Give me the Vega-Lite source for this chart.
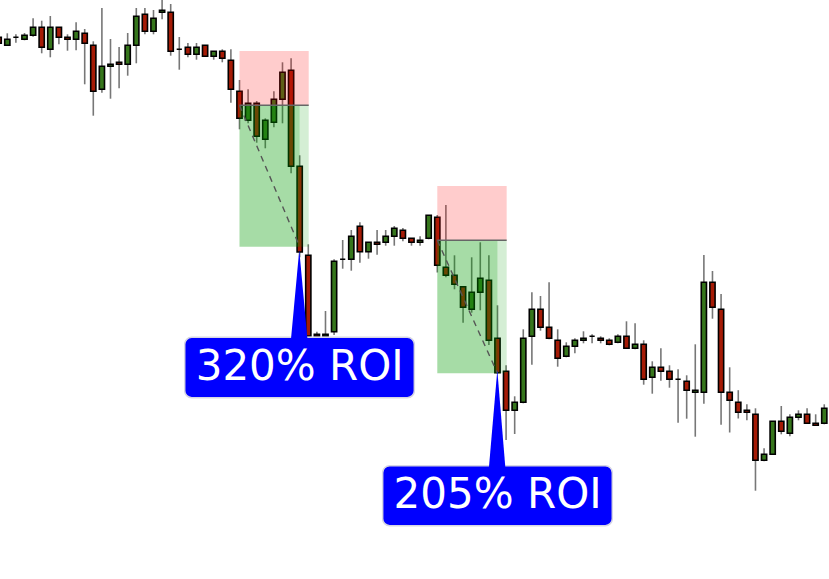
{
  "$schema": "https://vega.github.io/schema/vega-lite/v6.json",
  "width": 829,
  "height": 579,
  "autosize": "none",
  "padding": 0,
  "background": "white",
  "config": {"view": {"stroke": null}},
  "datasets": {
    "candles": [
      {"i": 0, "o": 562.7, "h": 565, "l": 555, "c": 556.7},
      {"i": 1, "o": 554.7, "h": 566.7, "l": 554.7, "c": 560.7},
      {"i": 2, "o": 562.7, "h": 565.7, "l": 557.3, "c": 562.7},
      {"i": 3, "o": 560.7, "h": 567, "l": 559.7, "c": 564.7},
      {"i": 4, "o": 564.7, "h": 581.7, "l": 563.3, "c": 572.7},
      {"i": 5, "o": 572.7, "h": 579.3, "l": 546.7, "c": 552.7},
      {"i": 6, "o": 550.7, "h": 584, "l": 542.7, "c": 572.7},
      {"i": 7, "o": 572.7, "h": 572.7, "l": 555.7, "c": 562.7},
      {"i": 8, "o": 562.7, "h": 565.7, "l": 549.3, "c": 560.7},
      {"i": 9, "o": 560.7, "h": 577.7, "l": 549.7, "c": 568.7},
      {"i": 10, "o": 566.7, "h": 571, "l": 515.7, "c": 556.7},
      {"i": 11, "o": 554.7, "h": 558.7, "l": 484.3, "c": 508.7},
      {"i": 12, "o": 510.7, "h": 592, "l": 507.3, "c": 533.7},
      {"i": 13, "o": 533.7, "h": 561, "l": 501.3, "c": 535.7},
      {"i": 14, "o": 537.7, "h": 553, "l": 511.7, "c": 535.7},
      {"i": 15, "o": 535.7, "h": 567, "l": 524.3, "c": 554.7},
      {"i": 16, "o": 554.7, "h": 592, "l": 536.7, "c": 583.7},
      {"i": 17, "o": 585.7, "h": 592, "l": 565.7, "c": 568.7},
      {"i": 18, "o": 568.7, "h": 590, "l": 565.7, "c": 581.7},
      {"i": 19, "o": 587.7, "h": 602, "l": 580.7, "c": 589.7},
      {"i": 20, "o": 587.7, "h": 596, "l": 544.3, "c": 548.7},
      {"i": 21, "o": 550.7, "h": 563, "l": 530.3, "c": 550.7},
      {"i": 22, "o": 552.7, "h": 557, "l": 542.7, "c": 545.7},
      {"i": 23, "o": 545.7, "h": 557, "l": 540.3, "c": 552.7},
      {"i": 24, "o": 554.7, "h": 555, "l": 543, "c": 543.7},
      {"i": 25, "o": 543.7, "h": 548.7, "l": 540.3, "c": 548.7},
      {"i": 26, "o": 548.7, "h": 550.7, "l": 537.7, "c": 541.7},
      {"i": 27, "o": 539.7, "h": 550.7, "l": 497.3, "c": 510.7},
      {"i": 28, "o": 508.7, "h": 520, "l": 470.7, "c": 481.7},
      {"i": 29, "o": 479.7, "h": 510.7, "l": 476.7, "c": 496.7},
      {"i": 30, "o": 496.7, "h": 499, "l": 457.3, "c": 463.7},
      {"i": 31, "o": 460.7, "h": 481.7, "l": 451.7, "c": 479.7},
      {"i": 32, "o": 477.7, "h": 508.7, "l": 472.7, "c": 500.7},
      {"i": 33, "o": 500.7, "h": 537.7, "l": 476.7, "c": 527.7},
      {"i": 34, "o": 529.7, "h": 541.7, "l": 426.7, "c": 433.7},
      {"i": 35, "o": 433.7, "h": 444.7, "l": 342.7, "c": 348},
      {"i": 36, "o": 344.7, "h": 355.7, "l": 264, "c": 264},
      {"i": 37, "o": 265.7, "h": 268.3, "l": 264, "c": 264},
      {"i": 38, "o": 264, "h": 289, "l": 264, "c": 265.7},
      {"i": 39, "o": 268.3, "h": 340.7, "l": 265, "c": 338.7},
      {"i": 40, "o": 340.7, "h": 360, "l": 331.3, "c": 340.7},
      {"i": 41, "o": 340.7, "h": 370, "l": 329.3, "c": 363.7},
      {"i": 42, "o": 373.7, "h": 377.7, "l": 337.3, "c": 348.3},
      {"i": 43, "o": 348.3, "h": 357.7, "l": 341.3, "c": 357.7},
      {"i": 44, "o": 357.7, "h": 370, "l": 345.3, "c": 355.7},
      {"i": 45, "o": 357.7, "h": 370, "l": 354.3, "c": 363.7},
      {"i": 46, "o": 363.7, "h": 374, "l": 354.3, "c": 371.7},
      {"i": 47, "o": 369.7, "h": 372, "l": 358.7, "c": 361.7},
      {"i": 48, "o": 361.7, "h": 361.7, "l": 354.3, "c": 357.7},
      {"i": 49, "o": 357.7, "h": 363.7, "l": 354.3, "c": 359.7},
      {"i": 50, "o": 361.7, "h": 384.7, "l": 360.7, "c": 384.7},
      {"i": 51, "o": 382.7, "h": 385, "l": 327.5, "c": 334.7},
      {"i": 52, "o": 332.7, "h": 395, "l": 322.7, "c": 324.7},
      {"i": 53, "o": 324.7, "h": 344.7, "l": 310.7, "c": 315.7},
      {"i": 54, "o": 313.3, "h": 313.3, "l": 277.3, "c": 292.7},
      {"i": 55, "o": 290.7, "h": 342.7, "l": 287.3, "c": 307.7},
      {"i": 56, "o": 307.7, "h": 357.7, "l": 289.7, "c": 321.7},
      {"i": 57, "o": 319.7, "h": 344.7, "l": 255, "c": 259.7},
      {"i": 58, "o": 261.7, "h": 294.7, "l": 226.7, "c": 227.3},
      {"i": 59, "o": 228.7, "h": 234.7, "l": 160, "c": 189.7},
      {"i": 60, "o": 189.7, "h": 203.7, "l": 166, "c": 197.7},
      {"i": 61, "o": 197.7, "h": 270.7, "l": 196.7, "c": 261.7},
      {"i": 62, "o": 263.7, "h": 307.7, "l": 235.3, "c": 290.7},
      {"i": 63, "o": 290.7, "h": 304, "l": 269.3, "c": 272.7},
      {"i": 64, "o": 272.7, "h": 317.7, "l": 260.7, "c": 261.7},
      {"i": 65, "o": 259.7, "h": 270.7, "l": 233.3, "c": 241.7},
      {"i": 66, "o": 243.7, "h": 257.7, "l": 242.7, "c": 253.7},
      {"i": 67, "o": 253.7, "h": 261.7, "l": 246.7, "c": 259.7},
      {"i": 68, "o": 259.7, "h": 268.7, "l": 256.7, "c": 261.7},
      {"i": 69, "o": 263.7, "h": 265.7, "l": 256.7, "c": 263.7},
      {"i": 70, "o": 261.7, "h": 263.7, "l": 256.7, "c": 259.7},
      {"i": 71, "o": 259.7, "h": 261.7, "l": 254.7, "c": 255.7},
      {"i": 72, "o": 257.7, "h": 265.7, "l": 256.7, "c": 263.7},
      {"i": 73, "o": 263.7, "h": 278.7, "l": 251.7, "c": 251.7},
      {"i": 74, "o": 251.7, "h": 276.7, "l": 250.7, "c": 255.7},
      {"i": 75, "o": 255.7, "h": 259.7, "l": 215.3, "c": 220.7},
      {"i": 76, "o": 222.7, "h": 238.7, "l": 206.3, "c": 232.7},
      {"i": 77, "o": 232.7, "h": 251.7, "l": 219.3, "c": 228.7},
      {"i": 78, "o": 228.7, "h": 234.7, "l": 212.3, "c": 220.7},
      {"i": 79, "o": 220.7, "h": 230.7, "l": 177.3, "c": 220.7},
      {"i": 80, "o": 218.7, "h": 224.7, "l": 181.3, "c": 209.7},
      {"i": 81, "o": 207.7, "h": 255.7, "l": 163.3, "c": 209.7},
      {"i": 82, "o": 207.7, "h": 345, "l": 196.3, "c": 317.7},
      {"i": 83, "o": 317.7, "h": 329, "l": 281.3, "c": 292.7},
      {"i": 84, "o": 290.7, "h": 306, "l": 175.3, "c": 207.7},
      {"i": 85, "o": 207.7, "h": 232.7, "l": 167.5, "c": 199.7},
      {"i": 86, "o": 197.7, "h": 209.8, "l": 181.5, "c": 187.7},
      {"i": 87, "o": 189.7, "h": 195.7, "l": 179.7, "c": 187.7},
      {"i": 88, "o": 185.7, "h": 191.7, "l": 109.3, "c": 139.7},
      {"i": 89, "o": 139.7, "h": 151.7, "l": 138.7, "c": 145.7},
      {"i": 90, "o": 145.7, "h": 178.7, "l": 145.7, "c": 178.7},
      {"i": 91, "o": 178.7, "h": 194, "l": 165.7, "c": 168.7},
      {"i": 92, "o": 166.7, "h": 185.7, "l": 163.7, "c": 182.7},
      {"i": 93, "o": 182.7, "h": 189.7, "l": 179.7, "c": 185.7},
      {"i": 94, "o": 185.7, "h": 191.7, "l": 176.7, "c": 176.7},
      {"i": 95, "o": 176.7, "h": 185.7, "l": 174.7, "c": 174.7},
      {"i": 96, "o": 176.7, "h": 195.7, "l": 175.7, "c": 191.7}
    ],
    "zones": [
      {"zone": "stop", "x0": 28, "x1": 36.05, "y0": 494.7, "y1": 549},
      {"zone": "profit", "x0": 28, "x1": 35, "y0": 353.3, "y1": 494.7},
      {"zone": "after", "x0": 35, "x1": 36.05, "y0": 353.3, "y1": 494.7},
      {"zone": "stop", "x0": 51, "x1": 59.07, "y0": 359.7, "y1": 414},
      {"zone": "profit", "x0": 51, "x1": 58, "y0": 226.7, "y1": 359.7},
      {"zone": "after", "x0": 58, "x1": 59.07, "y0": 226.7, "y1": 359.7}
    ],
    "trades": [
      {"x0": 28, "x1": 36.05, "entry": 494.7, "xe": 35, "target": 353.3},
      {"x0": 51, "x1": 59.07, "entry": 359.7, "xe": 58, "target": 226.7}
    ],
    "callouts": [
      {"id": "a", "label": "320% ROI", "bx0": 21.63, "bx1": 48.33, "by0": 202.3, "by1": 262.7, "tx": 35.0, "ty": 220},
      {"id": "b", "label": "205% ROI", "bx0": 44.65, "bx1": 71.35, "by0": 74.3, "by1": 134.3, "tx": 58.02, "ty": 92.3}
    ],
    "pointers": [
      {"id": "a", "px": 33.99, "py": 261, "pb": 261},
      {"id": "a", "px": 34.95, "py": 350, "pb": 261},
      {"id": "a", "px": 35.9, "py": 261, "pb": 261},
      {"id": "b", "px": 57.01, "py": 133, "pb": 133},
      {"id": "b", "px": 57.98, "py": 230, "pb": 133},
      {"id": "b", "px": 58.91, "py": 133, "pb": 133}
    ]
  },
  "layer": [
    {
      "data": {"name": "candles"},
      "mark": {"type": "rule", "color": "#777777", "strokeWidth": 1.6, "clip": true},
      "encoding": {
        "x": {"field": "i", "type": "quantitative", "scale": {"domain": [0.151, 96.55], "nice": false, "zero": false, "padding": 0}, "axis": null},
        "y": {"field": "l", "type": "quantitative", "scale": {"domain": [21, 600], "nice": false, "zero": false, "padding": 0}, "axis": null},
        "y2": {"field": "h"}
      }
    },
    {
      "data": {"name": "candles"},
      "mark": {"type": "bar", "orient": "vertical", "size": 5.2, "stroke": "#000000", "strokeWidth": 1.6, "clip": true},
      "encoding": {
        "x": {"field": "i", "type": "quantitative"},
        "y": {"field": "o", "type": "quantitative"},
        "y2": {"field": "c"},
        "color": {
          "condition": {"test": "datum.c >= datum.o", "value": "#36761c"},
          "value": "#a51b06"
        }
      }
    },
    {
      "data": {"name": "zones"},
      "mark": {"type": "rect"},
      "encoding": {
        "x": {"field": "x0", "type": "quantitative"},
        "x2": {"field": "x1"},
        "y": {"field": "y0", "type": "quantitative"},
        "y2": {"field": "y1"},
        "color": {"field": "zone", "type": "nominal", "scale": {"domain": ["stop", "profit", "after"], "range": ["rgba(255,0,0,0.2)", "rgba(0,156,0,0.35)", "rgba(0,156,0,0.17)"]}, "legend": null}
      }
    },
    {
      "data": {"name": "trades"},
      "mark": {"type": "rule", "color": "#666666", "strokeWidth": 1.5},
      "encoding": {
        "x": {"field": "x0", "type": "quantitative"},
        "x2": {"field": "x1"},
        "y": {"field": "entry", "type": "quantitative"}
      }
    },
    {
      "data": {"name": "trades"},
      "mark": {"type": "rule", "color": "#555555", "strokeWidth": 1.4, "strokeDash": [6, 5]},
      "encoding": {
        "x": {"field": "x0", "type": "quantitative"},
        "x2": {"field": "xe"},
        "y": {"field": "entry", "type": "quantitative"},
        "y2": {"field": "target"}
      }
    },
    {
      "data": {"name": "callouts"},
      "mark": {"type": "rect", "color": "#0000ff", "cornerRadius": 7, "stroke": "#d6d6e4", "strokeWidth": 1.5},
      "encoding": {
        "x": {"field": "bx0", "type": "quantitative"},
        "x2": {"field": "bx1"},
        "y": {"field": "by0", "type": "quantitative"},
        "y2": {"field": "by1"}
      }
    },
    {
      "data": {"name": "pointers"},
      "mark": {"type": "area", "color": "#0000ff", "opacity": 1},
      "encoding": {
        "x": {"field": "px", "type": "quantitative"},
        "y": {"field": "py", "type": "quantitative"},
        "y2": {"field": "pb"},
        "detail": {"field": "id"}
      }
    },
    {
      "data": {"name": "callouts"},
      "mark": {"type": "text", "color": "#ffffff", "font": "DejaVu Sans", "fontSize": 42, "align": "center", "baseline": "alphabetic"},
      "encoding": {
        "x": {"field": "tx", "type": "quantitative"},
        "y": {"field": "ty", "type": "quantitative"},
        "text": {"field": "label"}
      }
    }
  ]
}
